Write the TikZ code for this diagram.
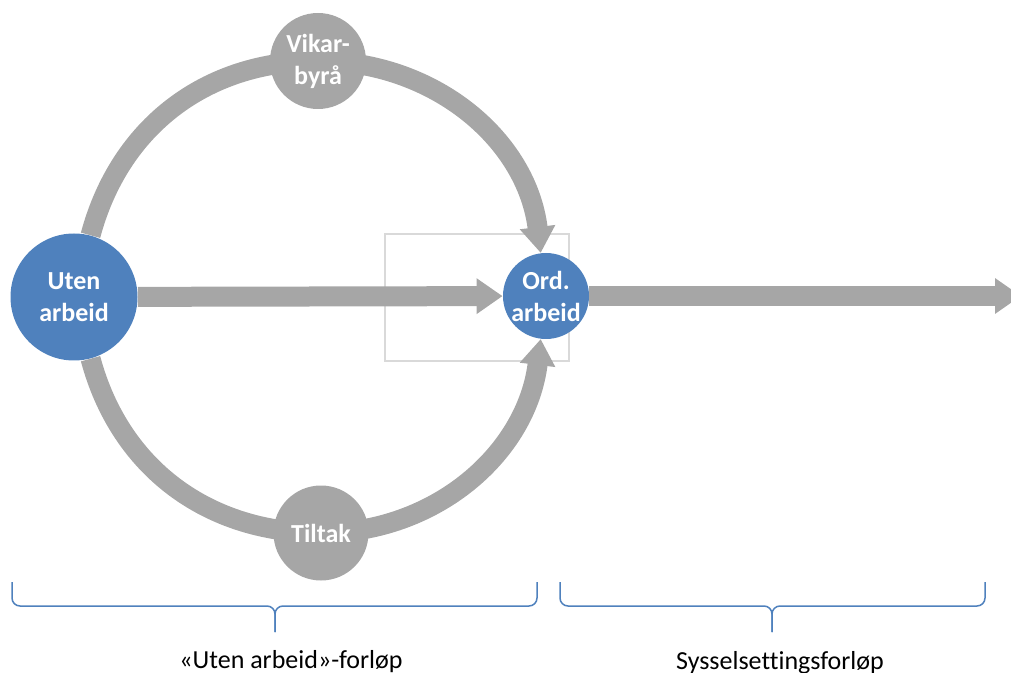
\documentclass[tikz,border=0pt]{standalone}
\usepackage{fontspec}
\setmainfont{Carlito}[Ligatures=NoCommon]
\usetikzlibrary{arrows.meta,backgrounds}
\definecolor{nvblue}{HTML}{4F81BD}
\definecolor{nvgray}{HTML}{A6A6A6}
\definecolor{nvframe}{HTML}{D9D9D9}

\begin{document}
\begin{tikzpicture}[
  x=0.5pt, y=-0.5pt,
  state/.style={circle, inner sep=0pt, align=center, text=white, font=\fontsize{13}{16}\selectfont\bfseries},
  work/.style={state, fill=nvblue},
  via/.style={state, fill=nvgray},
  link/.style={line width=10pt, draw=nvgray},
  flow/.style={link, -{Triangle[length=13pt, width=17pt]}},
  frame/.style={draw=nvframe, line width=0.6pt},
  brace/.style={draw=nvblue, line width=0.75pt, rounded corners=4pt},
  lbl/.style={anchor=base, font=\fontsize{13}{16}\selectfont}
]
\useasboundingbox (0,0) rectangle (1011,673);
% States
\node[work, minimum size=63.5pt] (uten) at (74,297) {Uten\\arbeid};
\node[work, minimum size=43pt] (ord) at (546,296) {Ord.\\arbeid};
\node[via, minimum size=48pt] (vikar) at (318,61) {Vikar-\\byrå};
\node[via, minimum size=47.5pt] (tiltak) at (321,533) {Tiltak};
\coordinate (exit) at (1021,296);
% Flows
\begin{scope}[on background layer]
  \draw[frame] (385,234) rectangle (569,361);
  \draw[link] (uten.75) to[out=75,in=180] (vikar.center);
  \draw[flow] (vikar.center) to[out=0,in=97] (ord.97);
  \draw[link] (uten.-75) to[out=-75,in=180] (tiltak.center);
  \draw[flow] (tiltak.center) to[out=0,in=-97] (ord.-97);
  \draw[flow] (uten) -- (ord);
  \draw[flow] (ord) -- (exit);
\end{scope}
% Braces
\draw[brace] (12,582) -- (12,606) -- (275,606) -- (275,632);
\draw[brace] (537,582) -- (537,606) -- (275,606) -- (275,632);
\draw[brace] (560,582) -- (560,606) -- (772,606) -- (772,632);
\draw[brace] (985,582) -- (985,606) -- (772,606) -- (772,632);
\node[lbl] (spanout) at (291,668) {«Uten arbeid»-forløp};
\node[lbl] (spanjob) at (780,669) {Sysselsettingsforløp};
\end{tikzpicture}
\end{document}
